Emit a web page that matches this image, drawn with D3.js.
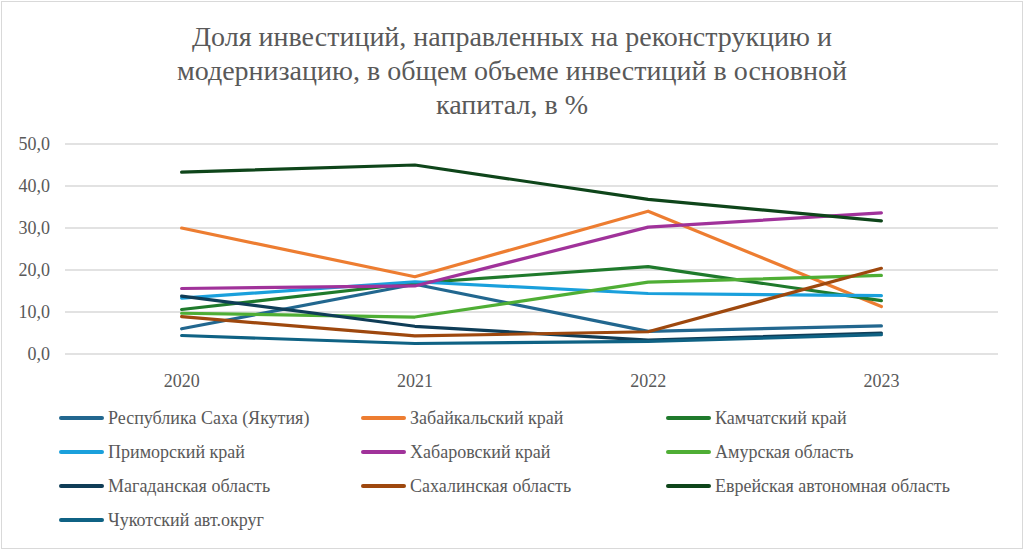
<!DOCTYPE html>
<html><head><meta charset="utf-8">
<script src="https://cdn.jsdelivr.net/npm/d3@7"></script>
<style>
@font-face{font-family:"ChartSerif";src:local("Liberation Serif"),local("LiberationSerif"),local("LiberationSerif-Regular"),local("Times New Roman");}
</style>
</head><body style="margin:0">
<script>
const years = ["2020","2021","2022","2023"];
const seriesNames = ["Республика Саха (Якутия)","Забайкальский край","Камчатский край","Приморский край","Хабаровский край","Амурская область","Магаданская область","Сахалинская область","Еврейская автономная область","Чукотский авт.округ"];
const saha      = [6.0, 16.6, 5.4, 6.7];
const zabaikal  = [30.0, 18.4, 34.0, 11.3];
const kamchatka = [10.6, 16.9, 20.8, 12.7];
const primorye  = [13.3, 17.2, 14.4, 13.9];
const khabarovsk= [15.6, 16.2, 30.2, 33.6];
const amur      = [9.7, 8.8, 17.1, 18.7];
const magadan   = [13.8, 6.6, 3.3, 5.0];
const sakhalin  = [8.9, 4.3, 5.3, 20.4];
const evrei     = [43.3, 45.0, 36.8, 31.7];
const chukotka  = [4.4, 2.5, 3.0, 4.6];
const yTicks = [0,10,20,30,40,50];
const colors = ["#22678f","#ed7d31","#1f7a2c","#1aa0dc","#a0329a","#4fae35","#0f3d57","#9e480e","#0e451a","#0f6284"];
const values = [saha,zabaikal,kamchatka,primorye,khabarovsk,amur,magadan,sakhalin,evrei,chukotka];

const FF="'Liberation Serif', 'ChartSerif', 'Times New Roman', Times, monospace";
const W=1024,H=550;
const svg=d3.select("body").append("svg").attr("width",W).attr("height",H).style("display","block");
svg.append("rect").attr("x",1.5).attr("y",1.5).attr("width",W-3).attr("height",H-3).attr("fill","#fff").attr("stroke","#d9d9d9");

const title=["Доля инвестиций, направленных на реконструкцию и","модернизацию, в общем объеме инвестиций в основной","капитал, в %"];
svg.selectAll("text.title").data(title).join("text").attr("class","title")
  .attr("x",512).attr("y",(d,i)=>46+i*34).attr("text-anchor","middle")
  .attr("font-size",28).attr("fill","#595959").attr("font-family",FF).style("font-family",FF).text(d=>d);

const x=d3.scaleBand().domain(years).range([65,998]);
const y=d3.scaleLinear().domain([0,50]).range([354,144]);

svg.selectAll("line.grid").data(yTicks).join("line").attr("class","grid")
  .attr("x1",65).attr("x2",998).attr("y1",d=>y(d)).attr("y2",d=>y(d))
  .attr("stroke","#d9d9d9").attr("stroke-width",1.3);

const fmt=d=>d3.format(".1f")(d).replace(".",",");
svg.selectAll("text.ytick").data(yTicks).join("text").attr("class","ytick")
  .attr("x",50).attr("y",d=>y(d)+6).attr("text-anchor","end")
  .attr("font-size",18).attr("fill","#595959").attr("font-family",FF).style("font-family",FF).text(fmt);

svg.selectAll("text.xtick").data(years).join("text").attr("class","xtick")
  .attr("x",d=>x(d)+x.bandwidth()/2).attr("y",387).attr("text-anchor","middle")
  .attr("font-size",18).attr("fill","#595959").attr("font-family",FF).style("font-family",FF).text(d=>d);

const line=d3.line().x((d,i)=>x(years[i])+x.bandwidth()/2).y(d=>y(d));
svg.selectAll("path.series").data(values).join("path").attr("class","series")
  .attr("d",line).attr("fill","none").attr("stroke",(d,i)=>colors[i])
  .attr("stroke-width",3.2).attr("stroke-linecap","round").attr("stroke-linejoin","round");

const colX=[60,362,667], rowY=[418,452,486,520];
svg.selectAll("line.leg").data(seriesNames).join("line").attr("class","leg")
  .attr("x1",(d,i)=>colX[i%3]+1).attr("x2",(d,i)=>colX[i%3]+42)
  .attr("y1",(d,i)=>rowY[Math.floor(i/3)]).attr("y2",(d,i)=>rowY[Math.floor(i/3)])
  .attr("stroke",(d,i)=>colors[i]).attr("stroke-width",4).attr("stroke-linecap","round");
svg.selectAll("text.leg").data(seriesNames).join("text").attr("class","leg")
  .attr("x",(d,i)=>colX[i%3]+48).attr("y",(d,i)=>rowY[Math.floor(i/3)]+6)
  .attr("font-size",18).attr("fill","#595959").attr("font-family",FF).style("font-family",FF).text(d=>d);
</script>
</body></html>
